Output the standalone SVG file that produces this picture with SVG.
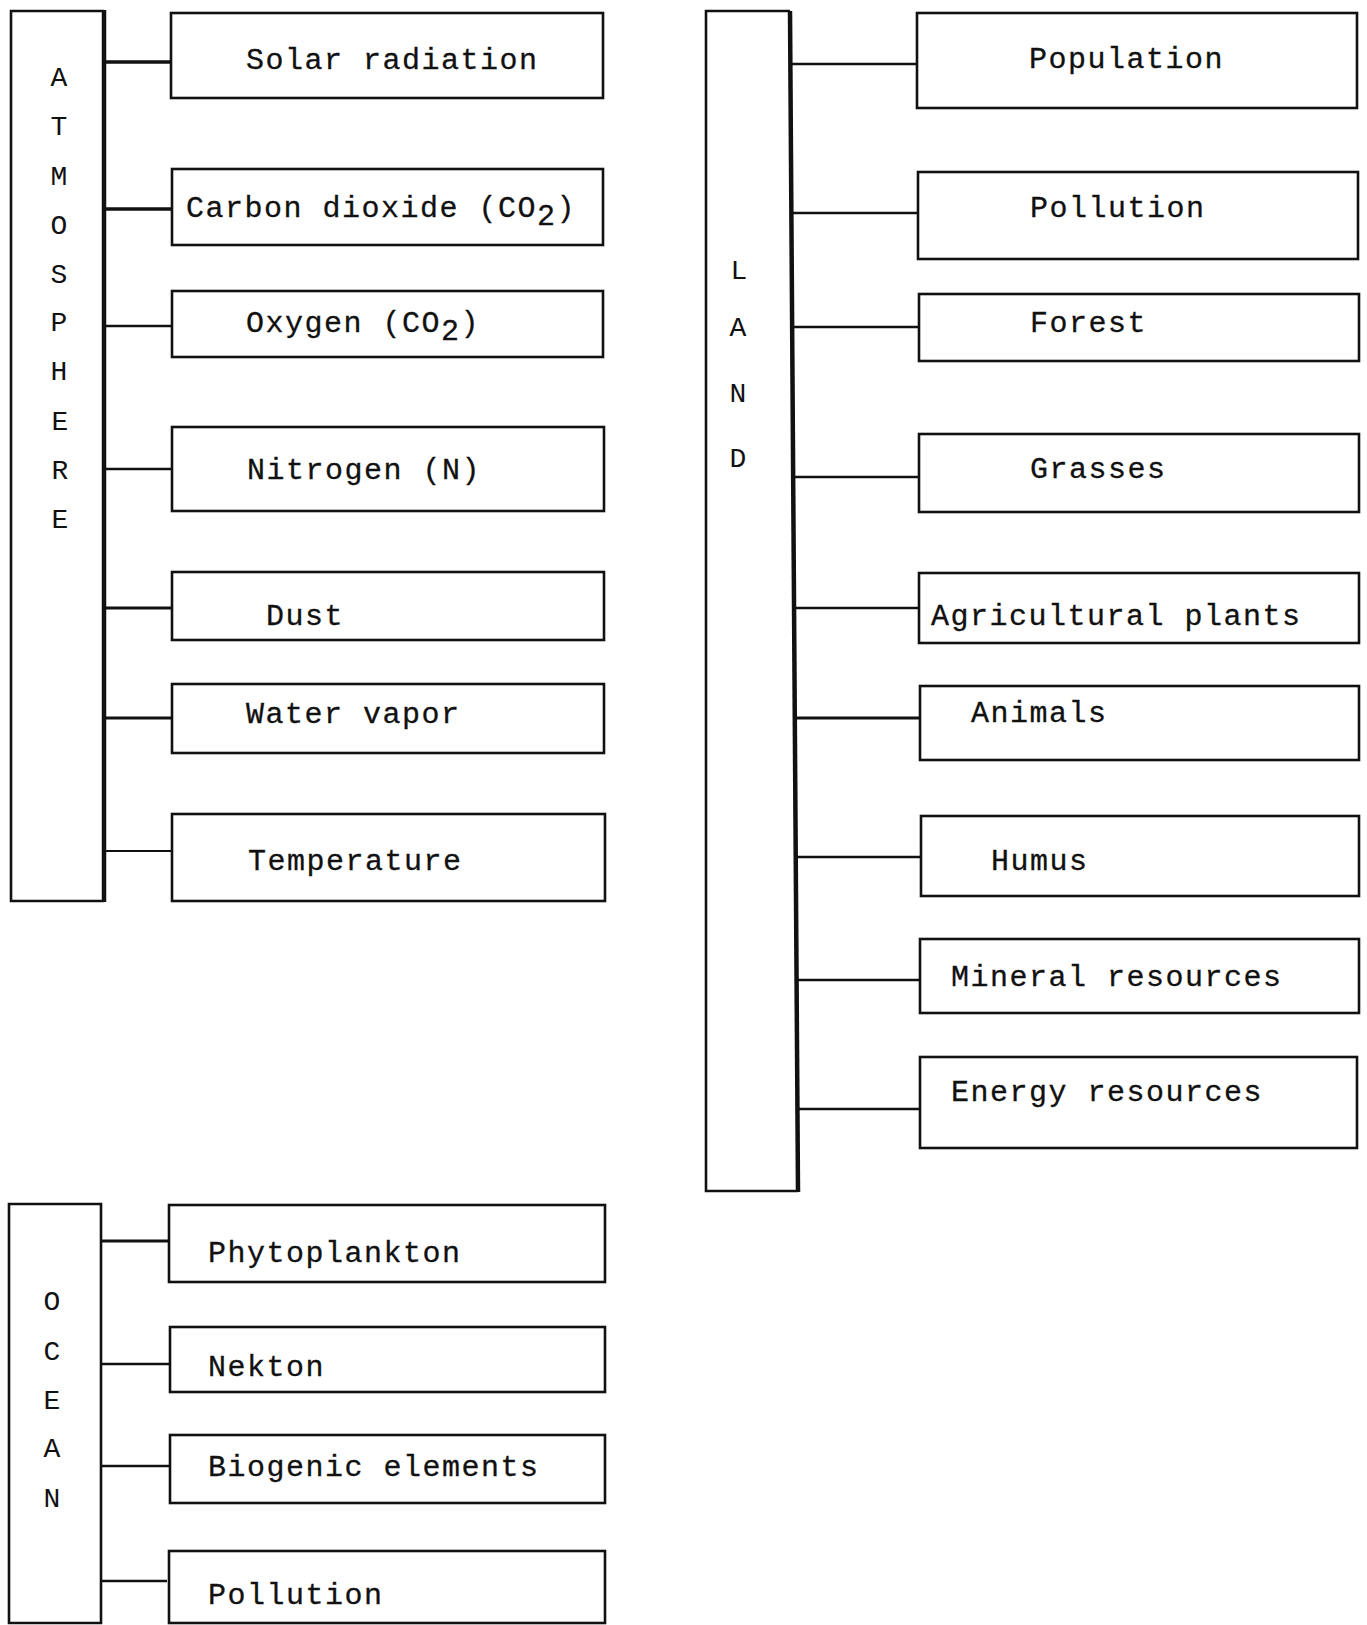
<svg xmlns="http://www.w3.org/2000/svg" width="1367" height="1625" viewBox="0 0 1367 1625">
<style>
.box{fill:none;stroke:#111;stroke-width:2.6}
.bar{fill:none;stroke:#111;stroke-width:4.5}
.con{fill:none;stroke:#111;stroke-width:2.4}
.t{font-family:"Liberation Mono","Courier New",monospace;font-size:30px;letter-spacing:1.5px;fill:#111;stroke:#111;stroke-width:0.3}
.l{font-family:"Liberation Mono","Courier New",monospace;font-size:28px;fill:#111;text-anchor:middle}
</style>
<rect width="1367" height="1625" fill="#fff"/>

<g id="atmosphere">
<path class="box" d="M104,11 L11,11 L11,901 L104,901"/>
<line class="bar" x1="104" y1="10" x2="104" y2="902"/>
<text class="l" x="59" y="86">A</text>
<text class="l" x="59" y="135">T</text>
<text class="l" x="59" y="185">M</text>
<text class="l" x="59" y="234">O</text>
<text class="l" x="59" y="283">S</text>
<text class="l" x="59" y="331">P</text>
<text class="l" x="59" y="380">H</text>
<text class="l" x="60" y="430">E</text>
<text class="l" x="60" y="479">R</text>
<text class="l" x="60" y="528">E</text>
</g>

<g id="land">
<path class="box" d="M790,11 L706,11 L706,1191 L798,1191"/>
<line class="bar" x1="790" y1="11" x2="798" y2="1192"/>
<text class="l" x="739" y="279">L</text>
<text class="l" x="738" y="336">A</text>
<text class="l" x="738" y="402">N</text>
<text class="l" x="738" y="467">D</text>
</g>

<g id="ocean">
<path class="box" d="M101,1204 L9,1204 L9,1623 L101,1623 Z"/>
<text class="l" x="52" y="1310">O</text>
<text class="l" x="52" y="1360">C</text>
<text class="l" x="52" y="1409">E</text>
<text class="l" x="52" y="1457">A</text>
<text class="l" x="52" y="1507">N</text>
</g>

<g id="connectors">
<line class="con" x1="104" y1="62" x2="172" y2="62" style="stroke-width:3.4"/>
<line class="con" x1="104" y1="209" x2="172" y2="209" style="stroke-width:3.4"/>
<line class="con" x1="104" y1="326" x2="172" y2="326"/>
<line class="con" x1="104" y1="469" x2="172" y2="469"/>
<line class="con" x1="104" y1="608" x2="172" y2="608" style="stroke-width:3"/>
<line class="con" x1="104" y1="718" x2="172" y2="718" style="stroke-width:3.2"/>
<line class="con" x1="104" y1="851" x2="172" y2="851" style="stroke-width:1.8"/>

<line class="con" x1="790" y1="64" x2="918" y2="64"/>
<line class="con" x1="792" y1="213" x2="918" y2="213"/>
<line class="con" x1="792" y1="327" x2="919" y2="327"/>
<line class="con" x1="794" y1="477" x2="919" y2="477"/>
<line class="con" x1="795" y1="608" x2="919" y2="608"/>
<line class="con" x1="795" y1="718" x2="920" y2="718" style="stroke-width:3.2"/>
<line class="con" x1="796" y1="857" x2="921" y2="857"/>
<line class="con" x1="797" y1="980" x2="920" y2="980"/>
<line class="con" x1="797" y1="1109" x2="920" y2="1109"/>

<line class="con" x1="101" y1="1241" x2="170" y2="1241" style="stroke-width:3"/>
<line class="con" x1="101" y1="1364" x2="170" y2="1364"/>
<line class="con" x1="101" y1="1466" x2="170" y2="1466"/>
<line class="con" x1="101" y1="1581" x2="167" y2="1581"/>
</g>

<g id="solar"><rect class="box" x="171" y="13" width="432" height="85"/><text class="t" x="246" y="69">Solar radiation</text></g>
<g id="co2"><rect class="box" x="172" y="169" width="431" height="76"/><text class="t" x="186" y="217">Carbon dioxide (CO<tspan dy="8">2</tspan><tspan dy="-8">)</tspan></text></g>
<g id="oxygen"><rect class="box" x="172" y="291" width="431" height="66"/><text class="t" x="246" y="332">Oxygen (CO<tspan dy="8">2</tspan><tspan dy="-8">)</tspan></text></g>
<g id="nitrogen"><rect class="box" x="172" y="427" width="432" height="84"/><text class="t" x="247" y="479">Nitrogen (N)</text></g>
<g id="dust"><rect class="box" x="172" y="572" width="432" height="68"/><text class="t" x="266" y="625">Dust</text></g>
<g id="water"><rect class="box" x="172" y="684" width="432" height="69"/><text class="t" x="246" y="723">Water vapor</text></g>
<g id="temperature"><rect class="box" x="172" y="814" width="433" height="87"/><text class="t" x="248" y="870">Temperature</text></g>

<g id="population"><rect class="box" x="917" y="13" width="440" height="95"/><text class="t" x="1029" y="68">Population</text></g>
<g id="pollution-land"><rect class="box" x="918" y="172" width="440" height="87"/><text class="t" x="1030" y="217">Pollution</text></g>
<g id="forest"><rect class="box" x="919" y="294" width="440" height="67"/><text class="t" x="1030" y="332">Forest</text></g>
<g id="grasses"><rect class="box" x="919" y="434" width="440" height="78"/><text class="t" x="1030" y="478">Grasses</text></g>
<g id="agri"><rect class="box" x="919" y="573" width="440" height="70"/><text class="t" x="931" y="625">Agricultural plants</text></g>
<g id="animals"><rect class="box" x="920" y="686" width="439" height="74"/><text class="t" x="971" y="722">Animals</text></g>
<g id="humus"><rect class="box" x="921" y="816" width="438" height="80"/><text class="t" x="991" y="870">Humus</text></g>
<g id="mineral"><rect class="box" x="920" y="939" width="439" height="74"/><text class="t" x="951" y="986">Mineral resources</text></g>
<g id="energy"><rect class="box" x="920" y="1057" width="437" height="91"/><text class="t" x="951" y="1101">Energy resources</text></g>

<g id="phyto"><rect class="box" x="169" y="1205" width="436" height="77"/><text class="t" x="208" y="1262">Phytoplankton</text></g>
<g id="nekton"><rect class="box" x="170" y="1327" width="435" height="65"/><text class="t" x="208" y="1376">Nekton</text></g>
<g id="biogenic"><rect class="box" x="170" y="1435" width="435" height="68"/><text class="t" x="208" y="1476">Biogenic elements</text></g>
<g id="pollution-ocean"><rect class="box" x="169" y="1551" width="436" height="72"/><text class="t" x="208" y="1604">Pollution</text></g>
</svg>
